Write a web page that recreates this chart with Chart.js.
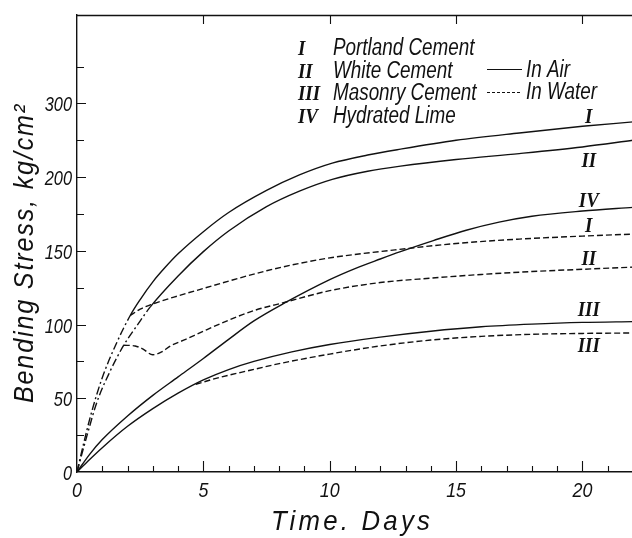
<!DOCTYPE html>
<html><head><meta charset="utf-8">
<script src="https://cdn.jsdelivr.net/npm/chart.js@4.4.1/dist/chart.umd.min.js"></script>
<style>
html,body{margin:0;padding:0;background:#fff;overflow:hidden;}
#wrap{position:relative;width:640px;height:538px;}
</style></head><body>
<div id="wrap"><canvas id="c" width="640" height="538"></canvas></div>
<script>
// ---- data (days, bending stress) ----
const airIDays   = [0,0.3,0.6,1,1.5,2.1,2.5,3,3.5,4,5,6,7.5,8.8,10.1,11.5,12.8,15,17.5,20,22];
const airIVals   = [0,22,42,64,85,106,117,129,139,148,163,176,191,201.5,209.5,215,219,225,230,234.5,237.5];
const airIIDays  = [0,0.4,0.8,1.3,1.85,2.4,2.9,4,5,6,7.5,8.8,10.1,11.5,12.8,15,17.5,20,22];
const airIIVals  = [0,25,48,68,86,100,112,133,149.5,163.5,180,190.5,198.5,204,207.5,212,216,220.5,225];
const airIIIDays = [0,0.5,1,2,3,4,5,6,7,8.5,10,12,14,16,18,20,22];
const airIIIVals = [0,8.5,16.5,31,43,53.5,62.5,69.5,75,81.5,86.5,91.5,95.5,98.5,100.3,101.5,102];
const airIVDays  = [0,0.5,1,2,3,4,5,6,7,8.2,10,11,12,12.8,14.1,15.4,16.7,18,20,22];
const airIVVals  = [0,12,22,38,52,64.5,77,90,102.5,114.5,130.5,138,144.5,149.5,157,164,169.5,173.5,177,179.5];
const waterIDays   = [2.1,2.5,3,4,5,6,7.5,8.8,10.1,12.5,15,17.5,20,22];
const waterIVals   = [106,110.5,114,119.5,124.5,129.5,136.5,141.5,145.5,150.5,155,158,160,161.4];
const waterIIDays  = [1.85,2.3,2.6,3,3.35,3.7,4.3,5,6,7,8.2,10,12,14,16,18,20,22];
const waterIIVals  = [86,85.5,83.5,79.5,81.5,85.5,90,95.5,103,109.5,115,123,128.5,131.5,134,136,137.5,139];
const waterIIIDays = [4.7,5.5,6.85,8,10,12,14,16,18,20,22];
const waterIIIVals = [59.5,63.5,69,73.5,80,85.5,89.5,92,93.4,94,94.3];

const xTickValues = [0,5,10,15,20];
const xTickLabels = ['0','5','10','15','20'];
const xMinorTicks = [1,2,3,4,6,7,8,9,11,12,13,14,16,17,18,19,21];
const yTickValues = [0,50,100,150,200,250];
const yTickLabels = ['0','50','100','150','200','300'];
const yMinorTicks = [25,75,125,175,225,275];

const legendNumerals = ['I','II','III','IV'];
const legendNames = ['Portland Cement','White Cement','Masonry Cement','Hydrated Lime'];
const xTitle = 'Time. Days';
const yTitle = 'Bending Stress, kg/cm\u00B2';

const SANS = '"Liberation Sans", Arial, sans-serif';
const SERIF = '"Liberation Serif", serif';

const pts = (d,v)=>d.map((x,i)=>({x:x,y:v[i]}));
function valueAt(d,v,x){
  for(let i=1;i<d.length;i++){ if(x<=d[i]){ const t=(x-d[i-1])/(d[i]-d[i-1]); return v[i-1]+t*(v[i]-v[i-1]); } }
  return v[v.length-1];
}
const DASHDOT=[8,3,2,3], DASH=[6,3];
function ds(label,d,v,dash,dashDotUntil){
  const o={label:label,data:pts(d,v),borderColor:'#111',borderWidth:1.4,borderDash:dash||[],pointRadius:0,fill:false,
    cubicInterpolationMode:'monotone'};
  if(dashDotUntil!==undefined){ o.segment={borderDash:c=>c.p1.parsed.x<=dashDotUntil?DASHDOT:undefined}; }
  return o;
}
// condensed text helper
function ctext(ctx,txt,x,y,font,sx,align,spacing){
  ctx.save(); ctx.font=font; ctx.letterSpacing=(spacing||0)+'px';
  ctx.translate(x,y); ctx.scale(sx,1); ctx.textAlign=align; ctx.textBaseline='alphabetic';
  ctx.fillText(txt,0,0); ctx.restore();
}

const rightLabels=[
  {t:'I',  d:airIDays,  v:airIVals,  dy:-3},
  {t:'II', d:airIIDays, v:airIIVals, dy:21},
  {t:'IV', d:airIVDays, v:airIVVals, dy:-4},
  {t:'I',  d:waterIDays, v:waterIVals, dy:-4},
  {t:'II', d:waterIIDays, v:waterIIVals, dy:-4},
  {t:'III',d:airIIIDays, v:airIIIVals, dy:-6},
  {t:'III',d:waterIIIDays, v:waterIIIVals, dy:19}
];

const annot={
  id:'annot',
  afterDraw(chart){
    const {ctx,chartArea:a,scales:{x,y}}=chart;
    ctx.save();
    ctx.strokeStyle='#111'; ctx.fillStyle='#111'; ctx.lineWidth=1.3; ctx.setLineDash([]);
    // top frame
    ctx.beginPath(); ctx.moveTo(a.left,a.top+0.5); ctx.lineTo(a.right,a.top+0.5); ctx.stroke();
    ctx.lineWidth=1.1;
    ctx.beginPath();
    xMinorTicks.forEach(v=>{const p=Math.round(x.getPixelForValue(v))+0.5; ctx.moveTo(p,a.bottom); ctx.lineTo(p,a.bottom-6);});
    xTickValues.forEach(v=>{ if(v===0) return; const p=Math.round(x.getPixelForValue(v))+0.5;
      ctx.moveTo(p,a.bottom); ctx.lineTo(p,a.bottom-11); ctx.moveTo(p,a.top); ctx.lineTo(p,a.top+9);});
    yTickValues.forEach(v=>{ if(v===0) return; const p=Math.round(y.getPixelForValue(v))+0.5; ctx.moveTo(a.left,p); ctx.lineTo(a.left+9,p);});
    yMinorTicks.forEach(v=>{const p=Math.round(y.getPixelForValue(v))+0.5; ctx.moveTo(a.left,p); ctx.lineTo(a.left+7,p);});
    ctx.stroke();

    // tick labels
    yTickValues.forEach((v,i)=>{ ctext(ctx,yTickLabels[i],72,y.getPixelForValue(v)+8,'italic 21px '+SANS,0.78,'right'); });
    xTickValues.forEach((v,i)=>{ ctext(ctx,xTickLabels[i],x.getPixelForValue(v),497,'italic 21px '+SANS,0.85,'center'); });

    // legend
    const base=[55,78,100,123];
    legendNumerals.forEach((n,i)=>{ ctext(ctx,n,298,base[i],'italic bold 21px '+SERIF,0.9,'left'); });
    legendNames.forEach((n,i)=>{ ctext(ctx,n,333,base[i],'italic 23px '+SANS,0.82,'left'); });
    ctx.lineWidth=1.2;
    ctx.beginPath(); ctx.moveTo(487,69.5); ctx.lineTo(522,69.5); ctx.stroke();
    ctx.setLineDash([3,2]); ctx.beginPath(); ctx.moveTo(487,92.5); ctx.lineTo(522,92.5); ctx.stroke(); ctx.setLineDash([]);
    ctext(ctx,'In Air',526,77,'italic 23px '+SANS,0.82,'left');
    ctext(ctx,'In Water',526,99,'italic 23px '+SANS,0.82,'left');

    // curve labels
    rightLabels.forEach(l=>{
      const px=x.getPixelForValue(20.25), py=y.getPixelForValue(valueAt(l.d,l.v,20.25))+l.dy;
      ctext(ctx,l.t,px,py,'italic bold 21px '+SERIF,0.9,'center');
    });

    // axis titles
    ctext(ctx,xTitle,352,530,'italic 28px '+SANS,0.92,'center',3.5);
    ctx.save();
    ctx.translate(33,253); ctx.rotate(-Math.PI/2);
    ctext(ctx,yTitle,0,0,'italic 28px '+SANS,0.9,'center',2);
    ctx.restore();
    ctx.restore();
  }
};

new Chart(document.getElementById('c').getContext('2d'),{
  type:'line',
  data:{datasets:[
    ds('I air',airIDays,airIVals,[],2.1),
    ds('II air',airIIDays,airIIVals,[],2.9),
    ds('III air',airIIIDays,airIIIVals,[]),
    ds('IV air',airIVDays,airIVVals,[]),
    ds('I water',waterIDays,waterIVals,DASH),
    ds('II water',waterIIDays,waterIIVals,DASH),
    ds('III water',waterIIIDays,waterIIIVals,DASH)
  ]},
  options:{
    responsive:false, animation:false, devicePixelRatio:1,
    layout:{padding:{top:15,right:7,left:0,bottom:0}},
    plugins:{legend:{display:false},tooltip:{enabled:false}},
    scales:{
      x:{type:'linear',min:0,max:22,
        grid:{display:false,drawTicks:false},
        border:{display:true,color:'#111',width:1.4},
        afterBuildTicks:s=>{s.ticks=xTickValues.map(v=>({value:v}));},
        afterFit:s=>{s.height=66;},
        ticks:{display:false}
      },
      y:{type:'linear',min:0,max:310,
        grid:{display:false,drawTicks:false},
        border:{display:true,color:'#111',width:1.4},
        afterBuildTicks:s=>{s.ticks=yTickValues.map(v=>({value:v}));},
        afterFit:s=>{s.width=77;},
        ticks:{display:false}
      }
    }
  },
  plugins:[annot]
});
</script>
</body></html>
